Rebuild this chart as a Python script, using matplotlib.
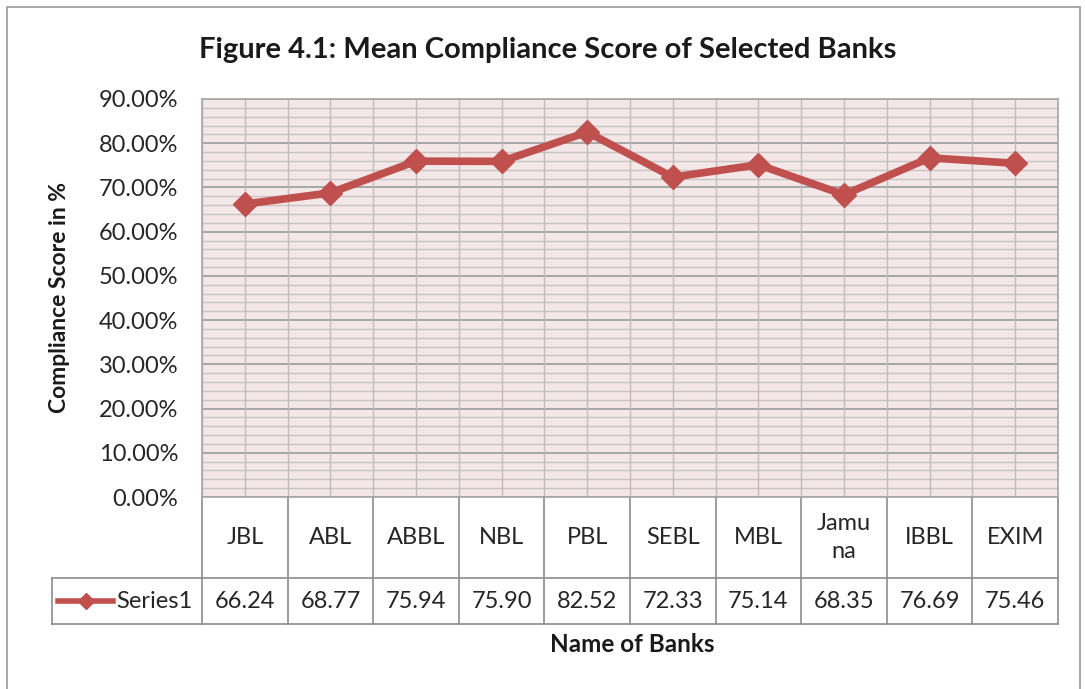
import numpy as np
import matplotlib.pyplot as plt
import matplotlib.transforms as mtransforms
from matplotlib.patches import Rectangle
from matplotlib.lines import Line2D

plt.rcParams['font.family'] = ['Lato', 'DejaVu Sans']

banks = ['JBL', 'ABL', 'ABBL', 'NBL', 'PBL', 'SEBL', 'MBL', 'Jamu\nna', 'IBBL', 'EXIM']
scores = [66.24, 68.77, 75.94, 75.90, 82.52, 72.33, 75.14, 68.35, 76.69, 75.46]
yticks = [0, 10, 20, 30, 40, 50, 60, 70, 80, 90]

W, H = 1085, 689
fig = plt.figure(figsize=(W / 100, H / 100), dpi=100)
fig.patch.set_facecolor('white')

# plot area in pixels (left, top, right, bottom)
L, T, R, B = 202, 99, 1058, 497
ax = fig.add_axes([L / W, 1 - B / H, (R - L) / W, (B - T) / H])
ax.set_facecolor('#f3e7e7')

n = len(banks)
x = np.arange(n)
ax.set_xlim(-0.5, n - 0.5)
ax.set_ylim(0, 90)

# grid
for v in np.arange(0, 90.1, 2):
    major = abs(v % 10) < 1e-6
    ax.axhline(v, color='#a6a6a6' if major else '#c9c3c3', lw=1.4 if major else 1.0, zorder=1)
for xv in np.arange(-0.5, n, 0.5):
    ax.axvline(xv, color='#c0bcbc', lw=1.0, zorder=1)

col = '#c0504d'
ax.plot(x, scores, color=col, lw=5.5, marker='D', ms=12, mfc=col, mec=col, zorder=3,
        solid_joinstyle='round')

fs = 17
ax.set_yticks(yticks)
ax.set_yticklabels(['%.2f%%' % v for v in yticks], fontsize=fs, color='#262626')
ax.tick_params(axis='y', length=0, pad=17)
ax.set_xticks([])
for s in ax.spines.values():
    s.set_color('#a6a6a6')
    s.set_linewidth(1.2)

# data table below the plot
trans = mtransforms.blended_transform_factory(ax.transData, ax.transAxes)
r1 = (B - 578) / (B - T)
r2 = (B - 624) / (B - T)
lx = (52 - L) / (R - L)
gc = '#8c8c8c'
for xv in np.arange(-0.5, n, 1.0):
    ax.add_line(Line2D([xv, xv], [0, r2], transform=trans, color=gc, lw=1.2, clip_on=False))
ax.add_line(Line2D([lx, 1], [r1, r1], transform=ax.transAxes, color=gc, lw=1.2, clip_on=False))
ax.add_line(Line2D([lx, 1], [r2, r2], transform=ax.transAxes, color=gc, lw=1.2, clip_on=False))
ax.add_line(Line2D([lx, lx], [r1, r2], transform=ax.transAxes, color=gc, lw=1.2, clip_on=False))

for i in range(n):
    ax.text(x[i], r1 / 2, banks[i], transform=trans, ha='center', va='center',
            fontsize=fs, color='#262626', linespacing=1.45)
    ax.text(x[i], (r1 + r2) / 2, '%.2f' % scores[i], transform=trans, ha='center',
            va='center', fontsize=fs, color='#262626')

# legend key in table
ky = (r1 + r2) / 2
kx0 = (58 - L) / (R - L)
kx1 = (113 - L) / (R - L)
ax.add_line(Line2D([kx0, kx1], [ky, ky], transform=ax.transAxes, color=col,
                   lw=4, clip_on=False))
ax.add_line(Line2D([(kx0 + kx1) / 2], [ky], transform=ax.transAxes, marker='D', ms=8,
                   color=col, clip_on=False))
ax.text((116 - L) / (R - L), ky, 'Series1', transform=ax.transAxes, ha='left',
        va='center', fontsize=fs, color='#262626')

fig.text(548 / W, 1 - 50 / H, 'Figure 4.1: Mean Compliance Score of Selected Banks',
         ha='center', va='center', fontsize=21, fontweight='bold', color='#1a1a1a')
fig.text(60 / W, 1 - 298 / H, 'Compliance Score in %', rotation=90, ha='center',
         va='center', fontsize=16.5, fontweight='bold', color='#1a1a1a')
fig.text(632 / W, 1 - 645 / H, 'Name of Banks', ha='center', va='center',
         fontsize=17.5, fontweight='bold', color='#1a1a1a')

# outer chart border
fig.patches.append(Rectangle((7 / W, -0.01), (1080 - 7) / W, 1 - 7 / H + 0.01,
                             transform=fig.transFigure, fill=False, ec='#9a9a9a', lw=1.2))

fig.savefig('out.png', dpi=100)
